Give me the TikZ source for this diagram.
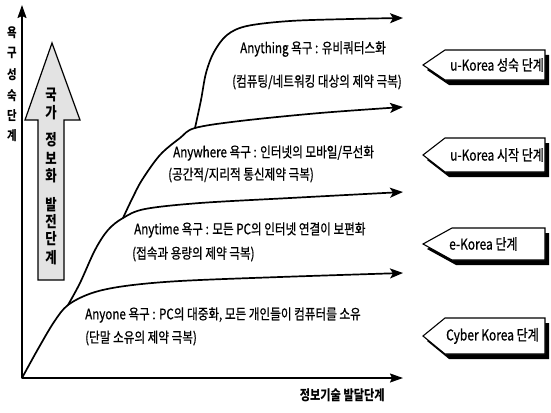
\documentclass[tikz,border=0pt]{standalone}
\usepackage{fontspec}
\newfontfamily\kr{Noto Sans CJK KR}[FakeStretch=0.8,FakeBold=0.7]
\newfontfamily\krb{Noto Sans CJK KR}[FakeStretch=0.8]
\usetikzlibrary{arrows.meta}
\tikzset{
  axisline/.style={line width=1.6pt, -{Stealth[length=13pt,width=9pt,inset=2pt]}},
  curveline/.style={line width=1.7pt, line cap=round, -{Stealth[length=13pt,width=10pt,inset=3pt]}},
  lbl/.style={font=\kr\fontsize{14.5}{16}\selectfont, inner sep=0pt, anchor=west},
  boxtxt/.style={font=\kr\fontsize{15}{17}\selectfont, inner sep=0pt, anchor=west},
  xlbl/.style={font=\krb\bfseries\fontsize{14}{16}\selectfont, inner sep=0pt, anchor=east},
  ychar/.style={font=\krb\bfseries\fontsize{13}{15}\selectfont, inner sep=0pt},
  achar/.style={font=\krb\bfseries\fontsize{15.5}{17}\selectfont, inner sep=0pt},
  bigarrow/.style={draw=black, line width=1.2pt, fill=gray!22, line join=miter},
  tagshadow/.style={fill=black},
  tagbody/.style={draw=black, line width=1.1pt, fill=white, line join=miter},
}
\newcommand{\stagetag}[7]{% name, tip x, body left x, top y, bottom y, text x, text
  \begin{scope}[shift={(4,5)}]
    \fill[tagshadow] (#2,{(#4+#5)/2}) -- (#3,#4) -- (545,#4) -- (545,#5) -- (#3,#5) -- cycle;
  \end{scope}
  \draw[tagbody] (#2,{(#4+#5)/2}) -- (#3,#4) -- (545,#4) -- (545,#5) -- (#3,#5) -- cycle;
  \node[boxtxt] (#1) at (#6,{(#4+#5)/2}) {#7};
}
\begin{document}
\begin{tikzpicture}[x=1pt,y=-1pt]
\useasboundingbox (0,0) rectangle (551,412);
\fill[white] (0,0) rectangle (551,412);

% axes
\coordinate (O) at (22,378);
\coordinate (Ytip) at (22,5);
\coordinate (Xtip) at (403,378);
\draw[axisline] (O) -- (Ytip);
\draw[axisline] (O) -- (Xtip);

% y-axis label
\foreach \c/\y [count=\i] in {욕/33,구/53,성/75,숙/96,단/116,계/136}
  \node[ychar] (ylab\i) at (12,\y) {\c};

% x-axis label
\node[xlbl] (xlab) at (385,395) {정보기술 발달단계};

% big arrow
\draw[bigarrow] (52,43) -- (80,120) -- (64,120) -- (64,280) -- (38,280) -- (38,120) -- (25,120) -- cycle;
\foreach \c/\y [count=\i] in {국/95,가/113,정/140,보/158,화/176,발/205,전/222,단/239,계/258}
  \node[achar] (ach\i) at (51,\y) {\c};

% curves
\coordinate (jB) at (68,305);
\coordinate (jC) at (123,218);
\coordinate (jD) at (195,128);
\coordinate (eA) at (403,273);
\coordinate (eB) at (403,192);
\coordinate (eC) at (403,107);
\coordinate (eD) at (403,18);

\draw[curveline] plot[smooth, tension=0.55] coordinates {(O) (38,349) (54,322) (jB) (92,293) (125,286) (180,281) (280,277) (eA)};
\draw[curveline] plot[smooth, tension=0.55] coordinates {(jB) (80,283) (95,250) (108,230) (jC) (145,209) (200,203) (290,198) (eB)};
\draw[curveline] plot[smooth, tension=0.55] coordinates {(jC) (132,199) (142,180) (160,155) (180,138) (jD) (240,121) (320,113) (eC)};
\draw[curveline] plot[smooth, tension=0.55] coordinates {(jD) (201,100) (206,73) (214,52) (227,35) (247,26) (290,21) (350,19) (eD)};

% labels
\node[lbl] (t4) at (240,49) {Anything 욕구 : 유비쿼터스화};
\node[lbl] (p4) at (232,82) {(컴퓨팅/네트워킹 대상의 제약 극복)};
\node[lbl] (t3) at (173,153) {Anywhere 욕구 : 인터넷의 모바일/무선화};
\node[lbl] (p3) at (168,175) {(공간적/지리적 통신제약 극복)};
\node[lbl] (t2) at (134,230) {Anytime 욕구 : 모든 PC의 인터넷 연결이 보편화};
\node[lbl] (p2) at (132,254) {(접속과 용량의 제약 극복)};
\node[lbl] (t1) at (85,315) {Anyone 욕구 : PC의 대중화, 모든 개인들이 컴퓨터를 소유};
\node[lbl] (p1) at (85,338) {(단말 소유의 제약 극복)};

% stage tags
\stagetag{s4}{423}{445}{50}{80}{450}{u-Korea 성숙 단계}
\stagetag{s3}{423}{445}{138}{172}{450}{u-Korea 시작 단계}
\stagetag{s2}{423}{452}{228}{260}{449}{e-Korea 단계}
\stagetag{s1}{423}{445}{318}{354}{446}{Cyber Korea 단계}
\end{tikzpicture}
\end{document}
